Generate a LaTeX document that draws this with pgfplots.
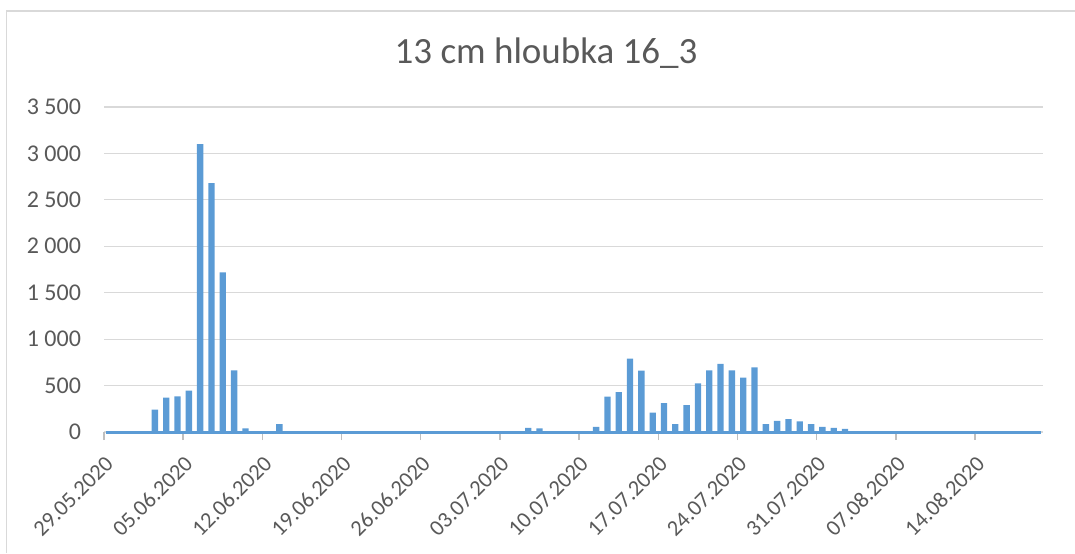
\documentclass[border=0pt]{standalone}
\usepackage{fontspec}
\setmainfont{Carlito}
\usepackage{pgfplots}
\pgfplotsset{compat=1.18}
\definecolor{barblue}{HTML}{5B9BD5}
\definecolor{txtgray}{HTML}{595959}
\definecolor{gridgray}{HTML}{D9D9D9}
\definecolor{tickgray}{HTML}{BFBFBF}
\begin{document}
\begin{tikzpicture}
\path[use as bounding box] (0,0) rectangle (537.5pt,276.5pt);
\draw[gridgray, line width=0.8pt] (3.25pt,0) -- (3.25pt,271pt) -- (537.5pt,271pt);
\begin{axis}[
  at={(52pt,60.5pt)}, anchor=south west,
  width=469.5pt, height=162.5pt, scale only axis,
  xmin=0, xmax=83, ymin=0, ymax=3500,
  axis line style={draw=none},
  ymajorgrids, grid style={gridgray, line width=0.6pt},
  ytick={0,500,1000,1500,2000,2500,3000,3500},
  yticklabels={0,500,1 000,1 500,2 000,2 500,3 000,3 500},
  ytick style={draw=none},
  xtick={0,7,14,21,28,35,42,49,56,63,70,77},
  xticklabels={29.05.2020,05.06.2020,12.06.2020,19.06.2020,26.06.2020,03.07.2020,10.07.2020,17.07.2020,24.07.2020,31.07.2020,07.08.2020,14.08.2020},
  xtick pos=bottom, ytick pos=left,
  tick align=outside, major tick length=4pt,
  xtick style={draw=tickgray, line width=0.7pt},
  ticklabel style={font=\fontsize{12}{14}\selectfont, text=txtgray},
  yticklabel style={anchor=east, xshift=-4pt},
  xticklabel style={font=\fontsize{11.2}{13}\selectfont, rotate=45, anchor=north east, inner sep=1pt, xshift=-4pt, yshift=-4pt},
  title={13 cm hloubka 16\_3},
  title style={font=\fontsize{18.5}{22}\selectfont, text=txtgray, at={(axis description cs:0.4707,1)}, anchor=center, yshift=21pt},
  clip=false,
]
\addplot[ybar, bar width=0.56, fill=barblue, draw=none] coordinates {
(4.5,240) (5.5,370) (6.5,385) (7.5,445) (8.5,3100) (9.5,2680) (10.5,1720) (11.5,665) (12.5,40) (15.5,85)
(37.5,45) (38.5,40) (43.5,55) (44.5,380) (45.5,430) (46.5,790) (47.5,660) (48.5,210) (49.5,310) (50.5,85)
(51.5,290) (52.5,525) (53.5,665) (54.5,735) (55.5,665) (56.5,585) (57.5,695) (58.5,85) (59.5,120) (60.5,140)
(61.5,115) (62.5,85) (63.5,55) (64.5,45) (65.5,35)
};
\addplot[barblue, line width=1.5pt] coordinates {(0.22,0) (82.78,0)};
\end{axis}
\end{tikzpicture}
\end{document}
